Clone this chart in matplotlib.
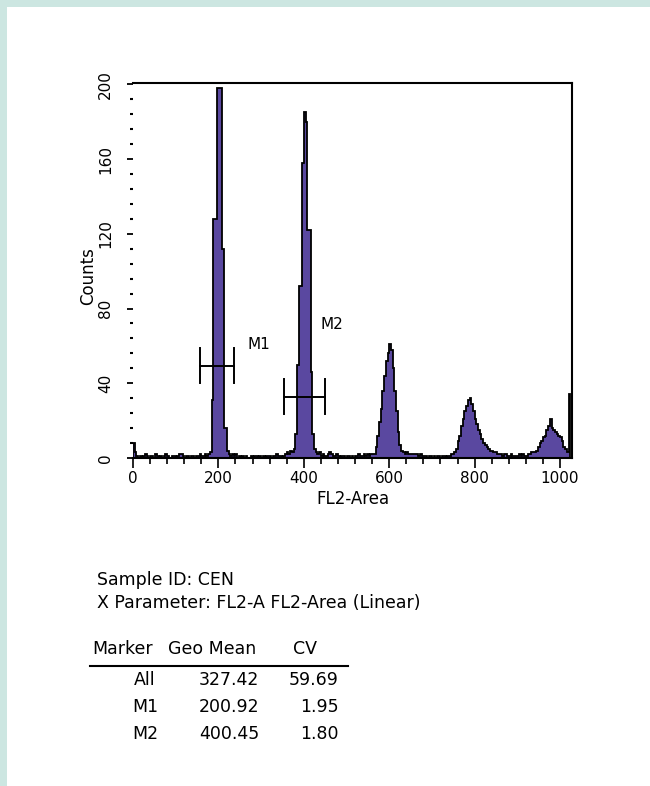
import matplotlib
matplotlib.use("Agg")
import matplotlib.pyplot as plt
import numpy as np
from matplotlib.patches import Rectangle
from matplotlib.lines import Line2D
from matplotlib.ticker import MultipleLocator

# ---------------- data ----------------
bin_width = 4  # channels per histogram bin
counts = [
    8, 3, 1, 0, 1, 0, 1, 2, 1, 0, 1, 1, 0, 2, 1, 0,
    1, 0, 1, 2, 1, 0, 0, 1, 1, 0, 1, 2, 2, 1, 0, 1,
    1, 0, 1, 1, 0, 1, 1, 2, 1, 1, 2, 1, 2, 3, 31, 128,
    128, 198, 198, 198, 112, 16, 16, 4, 2, 1, 2, 1, 2, 0, 1, 0,
    1, 0, 1, 0, 0, 1, 0, 1, 1, 0, 1, 0, 1, 0, 1, 1,
    1, 0, 1, 1, 2, 1, 1, 0, 1, 2, 3, 2, 4, 3, 5, 13,
    50, 92, 92, 158, 185, 180, 122, 122, 46, 13, 5, 3, 2, 3, 1, 2,
    1, 1, 2, 3, 2, 1, 1, 2, 1, 0, 1, 1, 0, 1, 1, 0,
    1, 0, 1, 1, 2, 1, 1, 2, 1, 2, 1, 2, 2, 2, 6, 12,
    19, 26, 36, 44, 52, 56, 61, 58, 48, 36, 25, 14, 7, 4, 3, 2,
    3, 2, 2, 2, 2, 2, 2, 1, 2, 1, 1, 1, 0, 1, 1, 0,
    1, 0, 1, 1, 0, 1, 1, 0, 1, 1, 2, 2, 3, 5, 9, 12,
    17, 21, 25, 28, 31, 32, 29, 25, 21, 18, 15, 13, 10, 8, 7, 6,
    5, 4, 4, 3, 3, 2, 2, 2, 1, 2, 2, 1, 1, 2, 1, 1,
    1, 1, 2, 1, 2, 1, 1, 2, 2, 3, 3, 3, 4, 6, 8, 9,
    11, 12, 15, 17, 21, 16, 15, 14, 13, 12, 11, 9, 6, 5, 3, 34,
]

marker_names = ["M1", "M2"]
marker_lo = [158, 354]
marker_hi = [237, 450]
marker_level = [49.5, 32.8]

x_ticks = [0, 200, 400, 600, 800, 1000]
y_ticks = [0, 40, 80, 120, 160, 200]

sample_id = "Sample ID: CEN"
x_param = "X Parameter: FL2-A FL2-Area (Linear)"
table_header = ["Marker", "Geo Mean", "CV"]
table_markers = ["All", "M1", "M2"]
geo_means = ["327.42", "200.92", "400.45"]
cvs = ["59.69", "1.95", "1.80"]

# ---------------- figure ----------------
W, H = 650, 786
fig = plt.figure(figsize=(W / 100, H / 100), dpi=100)
fig.patch.set_facecolor("white")

def fx(x):
    return x / W

def fy(y):
    return 1 - y / H

teal = "#cce6e1"
fig.patches.append(Rectangle((0, 0), fx(7), 1, transform=fig.transFigure,
                             facecolor=teal, edgecolor="none", zorder=0))
fig.patches.append(Rectangle((0, fy(7)), 1, 1 - fy(7), transform=fig.transFigure,
                             facecolor=teal, edgecolor="none", zorder=0))

ax_l, ax_r, ax_t, ax_b = 133, 572, 83, 458
ax = fig.add_axes([fx(ax_l), fy(ax_b), fx(ax_r - ax_l), (ax_b - ax_t) / H])

edges = np.arange(len(counts) + 1) * bin_width
purple = "#5a48a0"
ax.stairs(counts, edges, fill=True, color=purple, zorder=2)
ax.stairs(counts, edges, color="black", lw=1.3, zorder=3)

ax.set_xlim(0, 1028)
ax.set_ylim(0, 200.7)

# markers
cap = 9.5
for name, lo, hi, lev in zip(marker_names, marker_lo, marker_hi, marker_level):
    ax.plot([lo, hi], [lev, lev], color="black", lw=1.4, zorder=4)
    ax.plot([lo, lo], [lev - cap, lev + cap], color="black", lw=1.4, zorder=4)
    ax.plot([hi, hi], [lev - cap, lev + cap], color="black", lw=1.4, zorder=4)

ax.text(267, 61, marker_names[0], fontsize=11, ha="left", va="center")
ax.text(440, 71.4, marker_names[1], fontsize=11, ha="left", va="center")

# spines
ax.spines["left"].set_visible(False)
for s in ["top", "right", "bottom"]:
    ax.spines[s].set_linewidth(1.5)
    ax.spines[s].set_color("black")

ax.set_xticks(x_ticks)
ax.set_xticklabels([str(v) for v in x_ticks], fontsize=11)
ax.xaxis.set_minor_locator(MultipleLocator(40))
ax.tick_params(axis="x", which="major", length=7, width=1.2, pad=2)
ax.tick_params(axis="x", which="minor", length=4.5, width=1.2)

ax.set_yticks(y_ticks)
ax.set_yticklabels([str(v) for v in y_ticks], fontsize=11, rotation=90, va="center")
ax.yaxis.set_minor_locator(MultipleLocator(8))
ax.tick_params(axis="y", which="major", length=4.5, width=1.3, pad=10)
ax.tick_params(axis="y", which="minor", length=2.5, width=1.5)

ax.set_xlabel("FL2-Area", fontsize=12, labelpad=3)
fig.text(fx(88), fy(276), "Counts", fontsize=12, rotation=90, ha="center", va="center")

# ---------------- text block ----------------
fs = 12.5
fig.text(fx(97), fy(580), sample_id, fontsize=fs, ha="left", va="center")
fig.text(fx(97), fy(603), x_param, fontsize=fs, ha="left", va="center")

fig.text(fx(92), fy(649), table_header[0], fontsize=fs, ha="left", va="center")
fig.text(fx(168), fy(649), table_header[1], fontsize=fs, ha="left", va="center")
fig.text(fx(293), fy(649), table_header[2], fontsize=fs, ha="left", va="center")
fig.add_artist(Line2D([fx(90), fx(348)], [fy(666), fy(666)], color="black", lw=1.5,
                      transform=fig.transFigure))

row_y = [680, 707, 734]
for yy, m, g, c in zip(row_y, table_markers, geo_means, cvs):
    fig.text(fx(145), fy(yy), m, fontsize=fs, ha="center", va="center")
    fig.text(fx(259), fy(yy), g, fontsize=fs, ha="right", va="center")
    fig.text(fx(339), fy(yy), c, fontsize=fs, ha="right", va="center")

fig.savefig("out.png", dpi=100, facecolor="white")
